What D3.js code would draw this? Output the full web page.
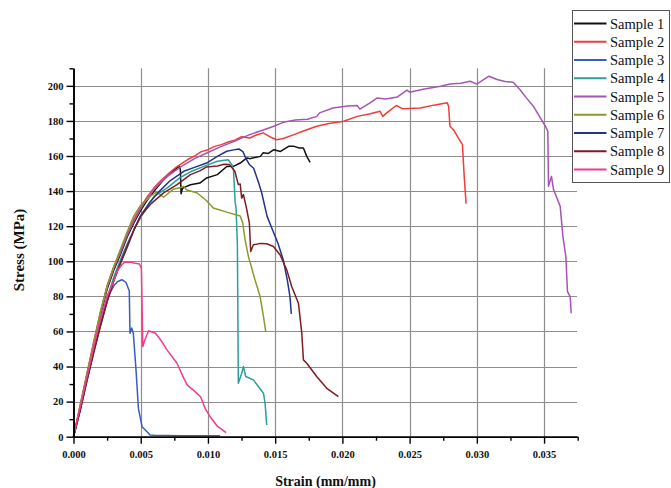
<!DOCTYPE html>
<html>
<head>
<meta charset="utf-8">
<script src="https://cdn.jsdelivr.net/npm/d3@7"></script>
<style>
  html, body { margin: 0; padding: 0; background: #fff; }
  svg { display: block; }
</style>
</head>
<body>
<svg id="chart" width="671" height="488"></svg>
<script>
// ---------- DATA (strain mm/mm, stress MPa) ----------
const seriesNames = ["Sample 1","Sample 2","Sample 3","Sample 4","Sample 5","Sample 6","Sample 7","Sample 8","Sample 9"];

const sample1 = [[0,0],[0.0005,17],[0.001,35],[0.0015,52],[0.002,69],[0.0025,84],[0.003,95],[0.0035,104],[0.004,114],[0.0045,122],[0.005,129],[0.0055,135],[0.006,140],[0.0067,146.5],[0.0072,150],[0.0077,153.2],[0.0079,154],[0.00795,152],[0.0080,138.5],[0.0081,141.5],[0.0082,142],[0.0087,143.6],[0.0094,144.6],[0.0099,147.5],[0.0107,149.4],[0.0114,154],[0.0119,154.1],[0.0124,156],[0.0129,158.9],[0.0131,158.5],[0.0139,159.8],[0.0141,161.8],[0.0145,161.5],[0.0149,163.6],[0.0154,162.6],[0.0160,165.5],[0.0164,165.5],[0.0168,164.6],[0.0171,164.6],[0.01735,159.8],[0.0176,156.4]];

const sample2 = [[0,0],[0.0005,18],[0.001,36],[0.0015,54],[0.002,71],[0.0025,86],[0.003,97],[0.0035,106],[0.004,116],[0.0045,124],[0.005,131],[0.0055,137],[0.006,142],[0.0065,146],[0.007,149.5],[0.0077,154],[0.008,155.5],[0.0085,158],[0.009,160],[0.0095,162.5],[0.010,163.6],[0.0105,165.5],[0.011,166.5],[0.0115,168],[0.012,169],[0.0125,171],[0.0131,170.3],[0.0136,172],[0.0141,173.2],[0.0146,171],[0.0151,169.3],[0.0156,170],[0.0164,172.2],[0.0172,174.5],[0.0181,177],[0.0190,178.5],[0.0201,179.8],[0.0211,182.6],[0.0220,184],[0.0228,185.5],[0.0230,182.6],[0.0233,184.6],[0.0240,188.8],[0.0245,186.9],[0.0258,187.4],[0.0268,189],[0.0278,190.3],[0.0279,188.4],[0.0280,177],[0.02826,175],[0.0287,169.3],[0.02893,166.5],[0.02906,148.4],[0.0292,132.8]];

const sample3 = [[0,0],[0.0005,16],[0.001,33],[0.0015,49],[0.002,65],[0.0025,79],[0.003,86],[0.0033,88.5],[0.0036,89.5],[0.0039,88],[0.00415,83],[0.0042,59],[0.00433,62],[0.00445,59],[0.00465,38],[0.00483,16],[0.0051,5.7],[0.00545,3],[0.0057,1],[0.006,0.8],[0.008,0.6],[0.010,0.5],[0.0109,0.5]];

const sample4 = [[0,0],[0.0005,16],[0.001,34],[0.0015,50],[0.002,65],[0.0025,79],[0.003,91],[0.0035,101],[0.004,110],[0.0045,118],[0.005,125],[0.006,137],[0.007,142],[0.0079,147.5],[0.0087,151],[0.0097,154.1],[0.0107,157],[0.0115,157.9],[0.01177,155.1],[0.0119,152.2],[0.01202,134],[0.01209,130.4],[0.01219,109.5],[0.01226,30.5],[0.01251,36.2],[0.01264,40],[0.01281,34.3],[0.01338,32.4],[0.01413,24.8],[0.01425,19],[0.01437,6.7]];

const sample5 = [[0,0],[0.0005,17],[0.001,35],[0.0015,53],[0.002,70],[0.0025,85],[0.003,96],[0.0035,105],[0.004,115],[0.0045,123],[0.005,130],[0.0055,136],[0.006,141],[0.0065,145],[0.007,148.5],[0.008,154],[0.009,158.5],[0.010,162],[0.011,165.5],[0.012,168.5],[0.0131,172.2],[0.0140,174.5],[0.0149,177],[0.0156,179.2],[0.0165,180.5],[0.0174,181],[0.0181,182.6],[0.0183,184.6],[0.0193,187.4],[0.0204,188.5],[0.0211,188.8],[0.0213,186.7],[0.0220,190],[0.0226,193.1],[0.0232,192.5],[0.0241,193.7],[0.0248,197.5],[0.0250,196.4],[0.0260,198],[0.0273,199.8],[0.0280,201.1],[0.0288,201.5],[0.0295,202.6],[0.0300,201],[0.0305,203.5],[0.0309,205.5],[0.0315,203.6],[0.0321,202.5],[0.0327,202],[0.0332,197.9],[0.0337,193],[0.0342,188.4],[0.0347,182],[0.0351,177],[0.03528,174.1],[0.03533,142.7],[0.03555,148.4],[0.0357,141],[0.0362,131.3],[0.0364,114.2],[0.03662,102.7],[0.03674,82.8],[0.03694,79.9],[0.03702,70.4]];

const sample6 = [[0,0],[0.0005,18],[0.001,36],[0.0015,53],[0.002,71],[0.0025,86],[0.003,97],[0.0035,107],[0.004,117],[0.0045,126],[0.005,132],[0.0057,137],[0.0062,139.5],[0.0067,136.5],[0.0074,141],[0.0080,142],[0.0082,142.7],[0.0084,140.8],[0.0092,138.9],[0.0099,134.5],[0.0104,130.4],[0.0114,128],[0.0124,125.8],[0.01259,121.8],[0.01276,112.3],[0.01301,102.7],[0.0135,89.4],[0.01388,79.9],[0.01413,68.5],[0.0143,59.9]];

const sample7 = [[0,0],[0.0005,15],[0.001,32],[0.0015,48],[0.002,63],[0.0025,77],[0.003,89],[0.0035,99],[0.004,108],[0.0045,118],[0.005,126],[0.0057,134],[0.0064,140],[0.0072,146],[0.0082,151.3],[0.0090,153.5],[0.0099,156],[0.0107,159.8],[0.0114,162.7],[0.0119,163.5],[0.0123,164],[0.0126,162.5],[0.0128,159],[0.0131,155],[0.0134,153],[0.0138,144],[0.0140,138.9],[0.0144,125.6],[0.0148,118],[0.0152,110.4],[0.0156,100.9],[0.0159,89.4],[0.0161,79.9],[0.0162,70]];

const sample8 = [[0,0],[0.0005,15],[0.001,32],[0.0015,48],[0.002,63],[0.0025,77],[0.003,89],[0.0035,99],[0.004,109],[0.0045,118],[0.005,126],[0.0058,133],[0.0067,139],[0.0077,143.7],[0.0087,149.4],[0.0094,151.5],[0.0099,153.8],[0.0107,154.3],[0.0112,155.3],[0.0116,155.1],[0.0120,151.3],[0.01226,143.7],[0.0124,144],[0.01251,136],[0.01264,138],[0.01289,129.4],[0.01308,121.8],[0.01318,105.6],[0.01338,109.4],[0.0139,110.2],[0.01437,110],[0.01487,108.4],[0.01536,103.7],[0.01586,95.1],[0.01623,85.6],[0.01673,76.1],[0.01698,59],[0.0171,43.8],[0.01735,41.9],[0.0181,34.2],[0.01884,27.6],[0.0197,22.8]];

const sample9 = [[0,0],[0.0005,17],[0.001,34],[0.0015,51],[0.002,67],[0.0025,80],[0.003,89],[0.0033,95],[0.0036,98],[0.0038,99.5],[0.0042,99.6],[0.0045,99],[0.0049,98.5],[0.00505,96],[0.0051,75],[0.00515,51.4],[0.0053,55],[0.00558,60.4],[0.0061,59],[0.0065,55],[0.00695,49.5],[0.0077,41.9],[0.0081,35],[0.00845,29.5],[0.0090,26],[0.00945,22.8],[0.0098,16],[0.01016,11.4],[0.0107,6],[0.01135,2.3]];

const seriesData = [sample1, sample2, sample3, sample4, sample5, sample6, sample7, sample8, sample9];
const seriesColors = ["#111111","#f23b3b","#3a5cc0","#2c9e9c","#a655b4","#8b9a2a","#22338c","#7b1e24","#f03d8c"];

const xTickValues = [0, 0.005, 0.010, 0.015, 0.020, 0.025, 0.030, 0.035];
const yTickValues = [0, 20, 40, 60, 80, 100, 120, 140, 160, 180, 200];

// ---------- LAYOUT ----------
const svg = d3.select("#chart");
const x = d3.scaleLinear().domain([0, 0.03745]).range([73.5, 577]);
const y = d3.scaleLinear().domain([0, 210]).range([436.7, 68.3]);
const serif = "'Liberation Serif', 'Times New Roman', serif";

svg.append("rect").attr("width", 671).attr("height", 488).attr("fill", "#fff");

// grid
const grid = svg.append("g").attr("stroke", "#8e8e8e").attr("stroke-width", 1.2);
grid.selectAll(".gx").data(xTickValues.slice(1)).enter().append("line")
  .attr("x1", d => Math.round(x(d)) + 0.5).attr("x2", d => Math.round(x(d)) + 0.5)
  .attr("y1", y(210)).attr("y2", y(0));
grid.selectAll(".gy").data(yTickValues.slice(1)).enter().append("line")
  .attr("y1", d => Math.round(y(d)) + 0.5).attr("y2", d => Math.round(y(d)) + 0.5)
  .attr("x1", x(0)).attr("x2", x.range()[1]);

// curves
const line = d3.line().x(d => x(d[0])).y(d => y(d[1]));
const curves = svg.append("g").attr("fill", "none").attr("stroke-width", 1.5).attr("stroke-linejoin", "round");
seriesData.forEach((s, i) => {
  curves.append("path").attr("d", line(s)).attr("stroke", seriesColors[i]);
});

// axes
const xAxis = d3.axisBottom(x).tickValues(xTickValues).tickFormat(d3.format(".3f")).tickSize(7).tickSizeOuter(0);
const xMinor = d3.axisBottom(x).tickValues(d3.range(0.0025, 0.0376, 0.005)).tickFormat("").tickSize(4).tickSizeOuter(0);
const yAxis = d3.axisLeft(y).tickValues(yTickValues).tickFormat(d3.format("d")).tickSize(7).tickSizeOuter(0);
const yMinor = d3.axisLeft(y).tickValues(d3.range(10, 211, 20)).tickFormat("").tickSize(4).tickSizeOuter(0);

function styleAxis(g) {
  g.select(".domain").attr("stroke", "#000").attr("stroke-width", 1.6);
  g.selectAll(".tick line").attr("stroke", "#000").attr("stroke-width", 1.4);
  g.selectAll("text").attr("font-family", serif).attr("font-weight", "bold").attr("font-size", "10.5px").attr("fill", "#111");
}
svg.append("g").attr("transform", `translate(0,${y(0)})`).call(xMinor).call(styleAxis);
svg.append("g").attr("transform", `translate(0,${y(0)})`).call(xAxis).call(styleAxis)
  .selectAll("text").attr("dy", "0").attr("y", 21);
svg.append("g").attr("transform", `translate(${x(0)},0)`).call(yMinor).call(styleAxis);
svg.append("g").attr("transform", `translate(${x(0)},0)`).call(yAxis).call(styleAxis)
  .selectAll("text").attr("x", -10);

// axis titles
svg.append("text").attr("x", 325.5).attr("y", 486).attr("text-anchor", "middle")
  .attr("font-family", serif).attr("font-weight", "bold").attr("font-size", "14px").attr("fill", "#111")
  .text("Strain (mm/mm)");
svg.append("text").attr("transform", "translate(24,250) rotate(-90)").attr("text-anchor", "middle")
  .attr("font-family", serif).attr("font-weight", "bold").attr("font-size", "15px").attr("fill", "#111")
  .text("Stress (MPa)");

// legend
const legend = svg.append("g");
legend.append("rect").attr("x", 572.5).attr("y", 10.5).attr("width", 97).attr("height", 172)
  .attr("fill", "#fff").attr("stroke", "#555").attr("stroke-width", 1);
seriesNames.forEach((name, i) => {
  const ly = 23.5 + i * 18.25;
  legend.append("line").attr("x1", 574).attr("x2", 606.5).attr("y1", ly).attr("y2", ly)
    .attr("stroke", seriesColors[i]).attr("stroke-width", 2);
  legend.append("text").attr("x", 610).attr("y", ly).attr("dy", "0.35em")
    .attr("font-family", serif).attr("font-size", "14.5px").attr("fill", "#111").text(name);
});
</script>
</body>
</html>
